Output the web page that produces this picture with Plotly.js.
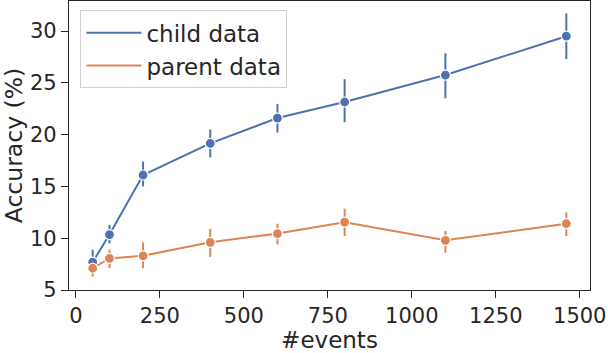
<!DOCTYPE html>
<html>
<head>
<meta charset="utf-8">
<script src="https://cdn.plot.ly/plotly-3.0.1.min.js"></script>
<style>
  body { margin: 0; background: #fff; }
  #container { width: 608px; height: 353px; }
</style>
</head>
<body>
<div id="container"></div>
<script>
var events = [50, 100, 200, 400, 600, 800, 1100, 1460];

var childAcc = [7.7, 10.35, 16.1, 19.15, 21.6, 23.15, 25.75, 29.5];
var childHi = [8.9, 11.3, 17.4, 20.5, 22.95, 25.35, 27.85, 31.7];
var childLo = [6.8, 9.5, 15.0, 17.8, 20.2, 21.2, 23.5, 27.3];

var parentAcc = [7.1, 8.05, 8.3, 9.6, 10.45, 11.55, 9.8, 11.4];
var parentHi = [7.7, 8.9, 9.6, 10.9, 11.4, 12.85, 10.7, 12.5];
var parentLo = [6.3, 7.1, 7.1, 8.2, 9.4, 10.2, 8.6, 10.2];

var seriesNames = ['child data', 'parent data'];
var colors = ['#4c72b0', '#dd8452'];

function makeTrace(y, hi, lo, color) {
    return {
        x: events,
        y: y,
        mode: 'lines+markers',
        type: 'scatter',
        showlegend: false,
        line: { color: color, width: 2 },
        marker: { color: color, size: 10, line: { color: '#fff', width: 1.2 } },
        error_y: {
            type: 'data',
            symmetric: false,
            array: hi.map(function (v, i) { return v - y[i]; }),
            arrayminus: lo.map(function (v, i) { return y[i] - v; }),
            color: color,
            thickness: 2,
            width: 0
        }
    };
}

function legendTrace(name, color) {
    return {
        x: [null], y: [null],
        mode: 'lines',
        type: 'scatter',
        name: name,
        line: { color: color, width: 2 }
    };
}

var data = [
    makeTrace(childAcc, childHi, childLo, colors[0]),
    makeTrace(parentAcc, parentHi, parentLo, colors[1]),
    legendTrace(seriesNames[0], colors[0]),
    legendTrace(seriesNames[1], colors[1])
];

var fontFamily = 'DejaVu Sans, sans-serif';

var layout = {
    width: 608,
    height: 353,
    margin: { l: 69, r: 18, t: 1, b: 63 },
    plot_bgcolor: '#fff',
    paper_bgcolor: '#fff',
    font: { family: fontFamily, color: '#262626', size: 21 },
    showlegend: true,
    legend: {
        x: 0.022, y: 0.968,
        xanchor: 'left', yanchor: 'top',
        bgcolor: 'rgba(255,255,255,0.8)',
        bordercolor: '#d0d0d0',
        borderwidth: 1,
        font: { size: 23, color: '#262626' },
        itemwidth: 55,
        tracegroupgap: 0
    },
    xaxis: {
        range: [-20.5, 1530.5],
        tickvals: [0, 250, 500, 750, 1000, 1250, 1500],
        showgrid: false,
        zeroline: false,
        showline: true,
        linecolor: '#262626',
        linewidth: 1.25,
        mirror: true,
        ticks: 'outside',
        ticklen: 7,
        tickwidth: 1.25,
        tickcolor: '#262626',
        tickfont: { size: 21 },
        title: { text: '#events', font: { size: 23 }, standoff: 5 }
    },
    yaxis: {
        range: [5, 32.9],
        tickvals: [5, 10, 15, 20, 25, 30],
        showgrid: false,
        zeroline: false,
        showline: true,
        linecolor: '#262626',
        linewidth: 1.25,
        mirror: true,
        ticks: 'outside',
        ticklen: 7,
        tickwidth: 1.25,
        tickcolor: '#262626',
        tickfont: { size: 21 },
        title: { text: 'Accuracy (%)', font: { size: 23.5 }, standoff: 5 }
    }
};

Plotly.newPlot('container', data, layout, { displayModeBar: false });
</script>
</body>
</html>
